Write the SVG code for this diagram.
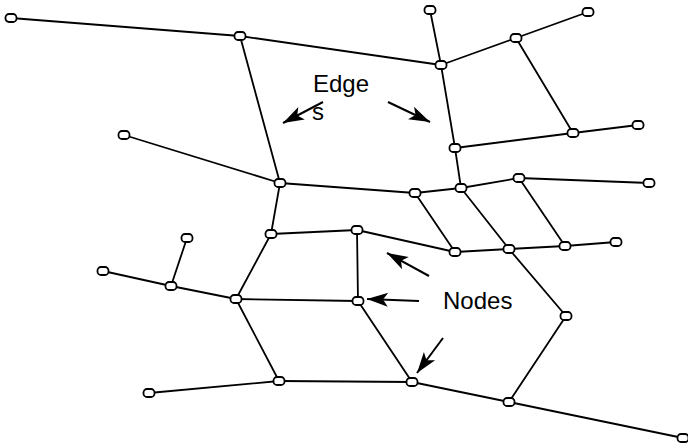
<svg xmlns="http://www.w3.org/2000/svg" width="688" height="445" viewBox="0 0 688 445">
<style>
.e{stroke:#000;stroke-width:1.8;fill:none;stroke-linecap:round}
.n{fill:#fff;stroke:#000;stroke-width:1.8}
.a{stroke:#000;stroke-width:2;fill:none}
.t{font-family:"Liberation Sans",Arial,sans-serif;font-size:24px;fill:#000}
</style>
<defs>
<marker id="ah" markerUnits="userSpaceOnUse" markerWidth="24" markerHeight="16" refX="21" refY="7" orient="auto" overflow="visible">
<path d="M0,0 L21,7 L0,14 L5,7 Z" fill="#000"/>
</marker>
</defs>
<rect width="688" height="445" fill="#fff"/>
<g id="connectors">
<line class="e" x1="11" y1="18" x2="240" y2="36"/>
<line class="e" x1="240" y1="36" x2="441" y2="65"/>
<line class="e" x1="240" y1="36" x2="280" y2="183"/>
<line class="e" x1="124" y1="135" x2="280" y2="183"/>
<line class="e" x1="280" y1="183" x2="415" y2="193"/>
<line class="e" x1="415" y1="193" x2="461" y2="188"/>
<line class="e" x1="441" y1="65" x2="430" y2="10"/>
<line class="e" x1="441" y1="65" x2="516" y2="38"/>
<line class="e" x1="516" y1="38" x2="588" y2="12"/>
<line class="e" x1="516" y1="38" x2="573" y2="133"/>
<line class="e" x1="573" y1="133" x2="638" y2="125"/>
<line class="e" x1="441" y1="65" x2="455" y2="148"/>
<line class="e" x1="455" y1="148" x2="573" y2="133"/>
<line class="e" x1="455" y1="148" x2="461" y2="188"/>
<line class="e" x1="461" y1="188" x2="519" y2="178"/>
<line class="e" x1="519" y1="178" x2="649" y2="183"/>
<line class="e" x1="415" y1="193" x2="455" y2="252"/>
<line class="e" x1="461" y1="188" x2="509" y2="249"/>
<line class="e" x1="519" y1="178" x2="565" y2="246"/>
<line class="e" x1="455" y1="252" x2="509" y2="249"/>
<line class="e" x1="509" y1="249" x2="565" y2="246"/>
<line class="e" x1="565" y1="246" x2="616" y2="242"/>
<line class="e" x1="509" y1="249" x2="566" y2="316"/>
<line class="e" x1="566" y1="316" x2="509" y2="402"/>
<line class="e" x1="412" y1="382" x2="509" y2="402"/>
<line class="e" x1="509" y1="402" x2="683" y2="438"/>
<line class="e" x1="280" y1="183" x2="271" y2="234"/>
<line class="e" x1="271" y1="234" x2="357" y2="230"/>
<line class="e" x1="357" y1="230" x2="455" y2="252"/>
<line class="e" x1="357" y1="230" x2="358" y2="301"/>
<line class="e" x1="271" y1="234" x2="236" y2="299"/>
<line class="e" x1="236" y1="299" x2="171" y2="286"/>
<line class="e" x1="171" y1="286" x2="103" y2="271"/>
<line class="e" x1="171" y1="286" x2="187" y2="238"/>
<line class="e" x1="236" y1="299" x2="358" y2="301"/>
<line class="e" x1="236" y1="299" x2="279" y2="381"/>
<line class="e" x1="149" y1="393" x2="279" y2="381"/>
<line class="e" x1="279" y1="381" x2="412" y2="382"/>
<line class="e" x1="358" y1="301" x2="412" y2="382"/>
</g>
<g id="n-A"><rect class="n" x="5.5" y="14" width="11" height="8" rx="3.5"/></g>
<g id="n-B"><rect class="n" x="234.5" y="32" width="11" height="8" rx="3.5"/></g>
<g id="n-C"><rect class="n" x="118.5" y="131" width="11" height="8" rx="3.5"/></g>
<g id="n-D"><rect class="n" x="274.5" y="179" width="11" height="8" rx="3.5"/></g>
<g id="n-E"><rect class="n" x="424.5" y="6" width="11" height="8" rx="3.5"/></g>
<g id="n-F"><rect class="n" x="582.5" y="8" width="11" height="8" rx="3.5"/></g>
<g id="n-G"><rect class="n" x="510.5" y="34" width="11" height="8" rx="3.5"/></g>
<g id="n-H"><rect class="n" x="435.5" y="61" width="11" height="8" rx="3.5"/></g>
<g id="n-I"><rect class="n" x="567.5" y="129" width="11" height="8" rx="3.5"/></g>
<g id="n-J"><rect class="n" x="632.5" y="121" width="11" height="8" rx="3.5"/></g>
<g id="n-K"><rect class="n" x="449.5" y="144" width="11" height="8" rx="3.5"/></g>
<g id="n-L"><rect class="n" x="455.5" y="184" width="11" height="8" rx="3.5"/></g>
<g id="n-M"><rect class="n" x="409.5" y="189" width="11" height="8" rx="3.5"/></g>
<g id="n-N"><rect class="n" x="513.5" y="174" width="11" height="8" rx="3.5"/></g>
<g id="n-O"><rect class="n" x="643.5" y="179" width="11" height="8" rx="3.5"/></g>
<g id="n-P"><rect class="n" x="265.5" y="230" width="11" height="8" rx="3.5"/></g>
<g id="n-Q"><rect class="n" x="181.5" y="234" width="11" height="8" rx="3.5"/></g>
<g id="n-R"><rect class="n" x="97.5" y="267" width="11" height="8" rx="3.5"/></g>
<g id="n-S"><rect class="n" x="165.5" y="282" width="11" height="8" rx="3.5"/></g>
<g id="n-T"><rect class="n" x="230.5" y="295" width="11" height="8" rx="3.5"/></g>
<g id="n-U"><rect class="n" x="273.5" y="377" width="11" height="8" rx="3.5"/></g>
<g id="n-V"><rect class="n" x="143.5" y="389" width="11" height="8" rx="3.5"/></g>
<g id="n-W"><rect class="n" x="351.5" y="226" width="11" height="8" rx="3.5"/></g>
<g id="n-X"><rect class="n" x="449.5" y="248" width="11" height="8" rx="3.5"/></g>
<g id="n-Y"><rect class="n" x="503.5" y="245" width="11" height="8" rx="3.5"/></g>
<g id="n-Z"><rect class="n" x="559.5" y="242" width="11" height="8" rx="3.5"/></g>
<g id="n-AA"><rect class="n" x="610.5" y="238" width="11" height="8" rx="3.5"/></g>
<g id="n-BB"><rect class="n" x="352.5" y="297" width="11" height="8" rx="3.5"/></g>
<g id="n-CC"><rect class="n" x="560.5" y="312" width="11" height="8" rx="3.5"/></g>
<g id="n-DD"><rect class="n" x="406.5" y="378" width="11" height="8" rx="3.5"/></g>
<g id="n-EE"><rect class="n" x="503.5" y="398" width="11" height="8" rx="3.5"/></g>
<g id="n-FF"><rect class="n" x="677.5" y="434" width="11" height="8" rx="3.5"/></g>
<g id="labels">
<text class="t" x="313" y="92">Edge</text>
<text class="t" x="312" y="120">s</text>
<text class="t" x="443" y="309">Nodes</text>
</g>
<g id="pointers">
<line class="a" x1="323" y1="102" x2="283" y2="123" marker-end="url(#ah)"/>
<line class="a" x1="388" y1="102" x2="430" y2="122" marker-end="url(#ah)"/>
<line class="a" x1="429" y1="276" x2="387" y2="253" marker-end="url(#ah)"/>
<line class="a" x1="419" y1="301" x2="367" y2="299" marker-end="url(#ah)"/>
<line class="a" x1="443" y1="338" x2="417" y2="373" marker-end="url(#ah)"/>
</g>
</svg>
